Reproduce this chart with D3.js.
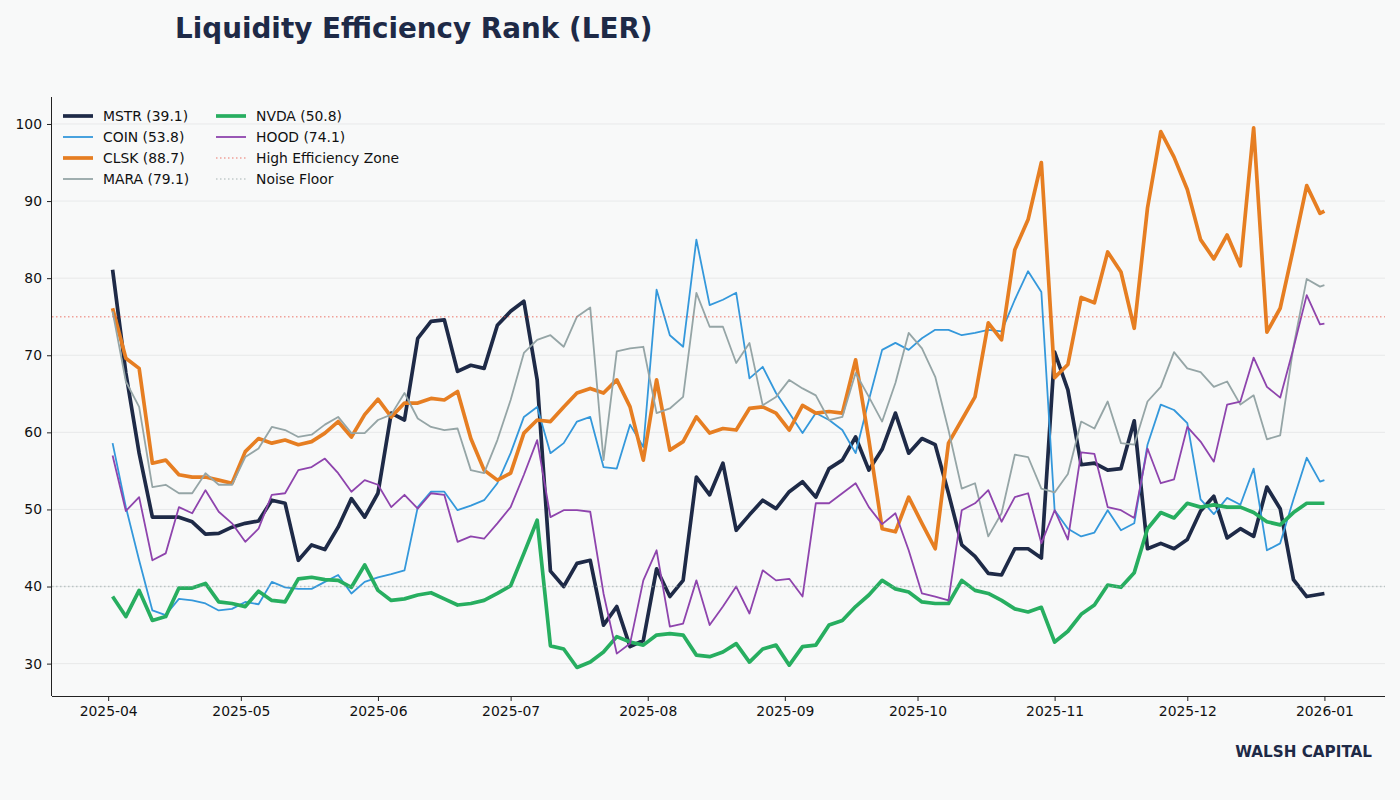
<!DOCTYPE html>
<html>
<head>
<meta charset="utf-8">
<script src="https://cdn.jsdelivr.net/npm/d3@7"></script>
<style>
  body { margin: 0; background: #f8f9f9; }
  svg { display: block; font-family: "DejaVu Sans", sans-serif; }
</style>
</head>
<body>
<svg id="chart" width="1400" height="800"></svg>
<script>
/*################
Data (sampled every 3 days, last point = Jan 1)
################*/
const startDate = new Date(2025, 3, 2),
    endDate = new Date(2026, 0, 1);

const mstr = [81.1, 67.7, 57.3, 49.0, 49.0, 49.0, 48.4, 46.8, 46.9, 47.7, 48.2, 48.5,
    51.2, 50.8, 43.4, 45.4, 44.8, 47.7, 51.4, 49.0, 52.1, 62.5, 61.6, 72.2,
    74.4, 74.6, 67.9, 68.7, 68.3, 73.9, 75.7, 77.0, 66.8, 42.0, 40.0, 43.0,
    43.4, 35.0, 37.4, 32.2, 33.0, 42.3, 38.7, 40.8, 54.2, 51.9, 56.0, 47.3,
    49.3, 51.2, 50.1, 52.3, 53.6, 51.6, 55.3, 56.4, 59.4, 55.1, 57.8, 62.5,
    57.3, 59.2, 58.4, 52.1, 45.4, 43.9, 41.7, 41.5, 44.9, 44.9, 43.7, 70.4,
    65.5, 55.8, 56.0, 55.1, 55.3, 61.5, 44.9, 45.6, 44.9, 46.1, 49.8, 51.7,
    46.3, 47.5, 46.5, 52.9, 50.1, 40.9, 38.7, 39.0, 39.1];

const coin = [58.6, 50.3, 43.4, 36.9, 36.3, 38.4, 38.2, 37.8, 36.9, 37.1, 38.0, 37.7,
    40.6, 39.9, 39.7, 39.7, 40.6, 41.5, 39.1, 40.6, 41.2, 41.6, 42.1, 50.3,
    52.3, 52.3, 49.9, 50.5, 51.2, 53.4, 57.3, 62.0, 63.3, 57.3, 58.6, 61.4,
    62.0, 55.5, 55.3, 61.0, 58.1, 78.5, 72.6, 71.1, 85.0, 76.5, 77.2, 78.1,
    67.0, 68.5, 65.1, 62.5, 59.9, 62.5, 61.6, 60.3, 57.3, 64.2, 70.7, 71.6,
    70.7, 72.2, 73.3, 73.3, 72.6, 72.9, 73.3, 73.1, 77.2, 80.9, 78.2, 49.9,
    47.5, 46.5, 47.0, 49.9, 47.3, 48.2, 58.4, 63.6, 62.9, 61.2, 51.3, 49.4,
    51.5, 50.6, 55.3, 44.7, 45.6, 51.3, 56.7, 53.6, 53.8];

const clsk = [76.1, 69.6, 68.3, 56.0, 56.4, 54.5, 54.2, 54.2, 53.8, 53.4, 57.5, 59.2,
    58.6, 59.0, 58.4, 58.8, 59.9, 61.4, 59.4, 62.3, 64.3, 62.0, 63.8, 63.8,
    64.4, 64.2, 65.3, 59.2, 55.1, 53.8, 54.7, 59.9, 61.6, 61.4, 63.3, 65.1,
    65.7, 65.1, 66.8, 63.3, 56.4, 66.8, 57.7, 58.8, 62.0, 59.9, 60.5, 60.3,
    63.1, 63.3, 62.5, 60.3, 63.5, 62.5, 62.7, 62.5, 69.4, 59.0, 47.5, 47.1,
    51.6, 48.2, 44.9, 58.6, 61.6, 64.6, 74.2, 72.0, 83.7, 87.6, 95.0, 67.1,
    68.8, 77.5, 76.8, 83.4, 80.8, 73.5, 89.1, 99.0, 95.7, 91.5, 85.0, 82.5,
    85.6, 81.6, 99.5, 73.0, 76.1, 83.9, 92.0, 88.4, 88.7];

const mara = [75.7, 66.6, 63.3, 52.9, 53.2, 52.1, 52.1, 54.7, 53.2, 53.2, 56.8, 57.9,
    60.7, 60.3, 59.4, 59.7, 61.0, 62.0, 59.9, 59.9, 61.6, 62.3, 65.1, 61.8,
    60.7, 60.3, 60.5, 55.1, 54.7, 59.0, 64.2, 70.3, 72.0, 72.6, 71.1, 75.0,
    76.2, 56.4, 70.5, 70.9, 71.1, 62.5, 63.1, 64.6, 78.1, 73.7, 73.7, 69.0,
    71.6, 63.5, 64.6, 66.8, 65.7, 64.8, 61.6, 62.0, 67.7, 64.6, 61.4, 66.4,
    72.9, 70.9, 67.2, 60.3, 52.7, 53.4, 46.5, 49.5, 57.1, 56.8, 52.7, 52.2,
    54.6, 61.4, 60.5, 64.0, 58.6, 58.4, 64.0, 65.9, 70.4, 68.3, 67.8, 65.9,
    66.6, 63.6, 64.8, 59.1, 59.6, 71.1, 79.9, 78.9, 79.1];

const nvda = [38.7, 36.1, 39.5, 35.6, 36.1, 39.8, 39.8, 40.4, 38.0, 37.8, 37.4, 39.4,
    38.2, 38.0, 41.0, 41.2, 40.9, 40.8, 39.9, 42.8, 39.5, 38.2, 38.4, 38.9,
    39.2, 38.4, 37.6, 37.8, 38.2, 39.1, 40.1, 44.3, 48.6, 32.3, 31.9, 29.5,
    30.2, 31.5, 33.5, 32.8, 32.4, 33.7, 33.9, 33.7, 31.1, 30.9, 31.5, 32.6,
    30.2, 31.9, 32.4, 29.8, 32.2, 32.4, 35.0, 35.6, 37.4, 38.9, 40.8, 39.7,
    39.3, 38.0, 37.8, 37.8, 40.8, 39.5, 39.1, 38.2, 37.1, 36.7, 37.3, 32.8,
    34.2, 36.4, 37.6, 40.2, 39.9, 41.8, 47.5, 49.6, 48.9, 50.8, 50.3, 50.6,
    50.3, 50.3, 49.6, 48.4, 48.0, 49.6, 50.8, 50.8, 50.8];

const hood = [57.0, 49.8, 51.6, 43.4, 44.3, 50.3, 49.5, 52.5, 49.7, 48.2, 45.8, 47.5,
    51.9, 52.1, 55.1, 55.5, 56.6, 54.7, 52.3, 53.8, 53.2, 50.3, 51.9, 50.1,
    52.1, 51.9, 45.8, 46.5, 46.2, 48.2, 50.3, 54.5, 59.0, 49.0, 49.9, 49.9,
    49.7, 39.1, 31.3, 32.6, 40.8, 44.7, 34.8, 35.2, 40.8, 35.0, 37.4, 40.0,
    36.5, 42.1, 40.8, 41.0, 38.7, 50.8, 50.8, 52.1, 53.4, 50.3, 48.1, 49.5,
    44.7, 39.1, 38.7, 38.2, 49.9, 50.8, 52.5, 48.4, 51.6, 52.1, 45.6, 49.9,
    46.1, 57.4, 57.2, 50.3, 49.9, 48.9, 57.9, 53.4, 53.9, 60.7, 58.8, 56.2,
    63.6, 64.0, 69.7, 65.9, 64.5, 70.9, 77.8, 74.0, 74.1];

const tickers = ['MSTR', 'COIN', 'CLSK', 'MARA', 'NVDA', 'HOOD'];
const tickerValues = [mstr, coin, clsk, mara, nvda, hood];
const yTicks = [30, 40, 50, 60, 70, 80, 90, 100];
const highZone = 75, noiseFloor = 40;

/*################
Style
################*/
const styleBank = {
    MSTR: { color: '#1e2a47', width: 3.7 },
    COIN: { color: '#3498db', width: 1.8 },
    CLSK: { color: '#e67e22', width: 3.7 },
    MARA: { color: '#95a5a6', width: 1.8 },
    NVDA: { color: '#27ae60', width: 3.7 },
    HOOD: { color: '#8e44ad', width: 1.8 }
};

const width = 1400, height = 800;
const plot = { left: 52, right: 1385, top: 97, bottom: 696 };

let dates = d3.timeDay.range(startDate, endDate, 3);
dates.push(endDate);

const svg = d3.select('#chart');
svg.append('rect').attr('width', width).attr('height', height).attr('fill', '#f8f9f9');

// matplotlib style 5% margins
const span = endDate - startDate;
const x = d3.scaleTime()
    .domain([new Date(+startDate - span * 0.05), new Date(+endDate + span * 0.05)])
    .range([plot.left, plot.right]);

const y = d3.scaleLinear()
    .domain([25.8, 103.5])
    .range([plot.bottom, plot.top]);

/*################
Grid + axes
################*/
svg.append('g')
    .selectAll('line')
    .data(yTicks)
    .enter()
    .append('line')
    .attr('x1', plot.left).attr('x2', plot.right)
    .attr('y1', d => y(d)).attr('y2', d => y(d))
    .attr('stroke', '#e3e5e6')
    .attr('stroke-width', 0.8);

const xAxis = svg.append('g')
    .attr('transform', `translate(0,${plot.bottom})`)
    .call(d3.axisBottom(x)
        .tickValues(d3.timeMonth.range(new Date(2025, 3, 1), new Date(2026, 0, 2)))
        .tickFormat(d3.timeFormat('%Y-%m'))
        .tickSize(5)
        .tickPadding(5)
        .tickSizeOuter(0));

const yAxis = svg.append('g')
    .attr('transform', `translate(${plot.left},0)`)
    .call(d3.axisLeft(y)
        .tickValues(yTicks)
        .tickSize(5)
        .tickPadding(5)
        .tickSizeOuter(0));

[xAxis, yAxis].forEach(a => {
    a.select('.domain').attr('stroke', '#222').attr('stroke-width', 1);
    a.selectAll('.tick line').attr('stroke', '#222');
    a.selectAll('.tick text')
        .attr('fill', '#111')
        .style('font-size', '13.9px')
        .style('font-family', '"DejaVu Sans", sans-serif');
});

// spines span the whole plot area
xAxis.select('.domain').attr('d', `M${plot.left},0.5H${plot.right}`);
yAxis.select('.domain').attr('d', `M-0.5,${plot.top}V${plot.bottom}`);

/*################
Lines
################*/
const line = d3.line()
    .x((d, i) => x(dates[i]))
    .y(d => y(d));

svg.append('g')
    .selectAll('path')
    .data(tickers)
    .enter()
    .append('path')
    .attr('d', (d, i) => line(tickerValues[i]))
    .attr('fill', 'none')
    .attr('stroke', d => styleBank[d].color)
    .attr('stroke-width', d => styleBank[d].width)
    .attr('stroke-linejoin', 'round')
    .attr('stroke-linecap', 'butt');

const refLines = [
    { label: 'High Efficiency Zone', value: highZone, color: 'rgba(231,76,60,0.5)' },
    { label: 'Noise Floor', value: noiseFloor, color: 'rgba(149,165,166,0.55)' }
];

svg.append('g')
    .selectAll('line')
    .data(refLines)
    .enter()
    .append('line')
    .attr('x1', plot.left).attr('x2', plot.right)
    .attr('y1', d => y(d.value)).attr('y2', d => y(d.value))
    .attr('stroke', d => d.color)
    .attr('stroke-width', 1.5)
    .attr('stroke-dasharray', '1.5,2.5');

/*################
Legend
################*/
let legendData = tickers.map((t, i) => ({
    label: `${t} (${tickerValues[i][tickerValues[i].length - 1].toFixed(1)})`,
    color: styleBank[t].color,
    width: styleBank[t].width,
    dash: null
})).concat(refLines.map(r => ({ label: r.label, color: r.color, width: 1.5, dash: '1.5,2.5' })));

function position(d, i) {
    var rows = 4;
    var h = 21;
    var w = 153;
    var tx = 63;
    var ty = 116;
    var col = Math.floor(i / rows);
    return `translate(${tx + col * w},${ty + (i % rows) * h})`;
}

svg.append('g')
    .selectAll('g')
    .data(legendData)
    .enter()
    .append('g')
    .attr('transform', position)
    .call(g => g.append('line')
        .attr('x1', 0).attr('x2', 30)
        .attr('stroke', d => d.color)
        .attr('stroke-width', d => d.width)
        .attr('stroke-dasharray', d => d.dash))
    .call(g => g.append('text')
        .attr('x', 40)
        .attr('dy', '0.36em')
        .attr('fill', '#111')
        .style('font-size', '13.9px')
        .text(d => d.label));

/*################
Title + footer
################*/
svg.append('text')
    .attr('x', 175)
    .attr('y', 38)
    .attr('fill', '#1e2a47')
    .style('font-size', '27.8px')
    .style('font-weight', 'bold')
    .text('Liquidity Efficiency Rank (LER)');

svg.append('text')
    .attr('x', 1372)
    .attr('y', 757)
    .attr('text-anchor', 'end')
    .attr('fill', '#1e2a47')
    .style('font-size', '15.2px')
    .style('font-weight', 'bold')
    .text('WALSH CAPITAL');
</script>
</body>
</html>
